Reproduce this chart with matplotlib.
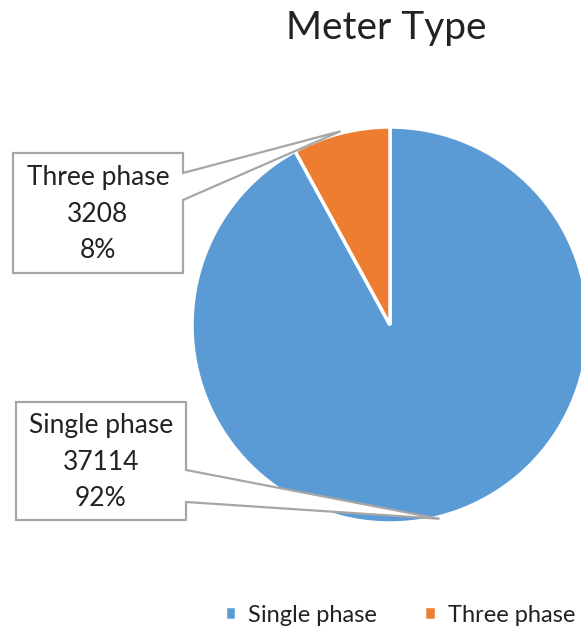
import numpy as np
import matplotlib
matplotlib.use("Agg")
from matplotlib import pyplot as plt
from matplotlib.patches import Polygon

# meter counts by type
meter_types = ["Single phase", "Three phase"]
meter_counts = [37114, 3208]
slice_colors = ["#5B9BD5", "#ED7D31"]

plt.rcParams['font.family'] = ['Lato', 'DejaVu Sans']
text_color = "#222222"

W, H = 581, 642
fig = plt.figure(figsize=(W / 100, H / 100), dpi=100)
ax = fig.add_axes([0, 0, 1, 1])

# pie laid out in pixel units (y measured from the bottom)
cx, cy, r = 390, H - 325, 198
wedges, _ = ax.pie(meter_counts, colors=slice_colors, startangle=90,
                   counterclock=False, center=(cx, cy), radius=r,
                   explode=[0, 0.012],
                   wedgeprops=dict(edgecolor="white", linewidth=2.5))
ax.set_xlim(0, W)
ax.set_ylim(0, H)
ax.set_aspect("auto")
ax.axis("off")

total = sum(meter_counts)

# callout boxes: (left, top, right, bottom) and pointer base on box edge (top y, bottom y)
boxes = [
    ((16, 402, 186, 520), (470, 502)),   # Single phase
    ((13, 153, 183, 273), (173, 200)),   # Three phase
]

for w, name, count, (box, base) in zip(wedges, meter_types, meter_counts, boxes):
    mid = np.deg2rad((w.theta1 + w.theta2) / 2)
    wx, wy = w.center
    tip = (wx + 1.01 * r * np.cos(mid), wy + 1.01 * r * np.sin(mid))
    x0, y0, x1, y1 = box
    pts = [(x0, H - y0), (x1, H - y0), (x1, H - base[0]), tip,
           (x1, H - base[1]), (x1, H - y1), (x0, H - y1)]
    ax.add_patch(Polygon(pts, closed=True, facecolor="white",
                         edgecolor="#A6A6A6", linewidth=1.6, zorder=5))
    label = f"{name}\n{count}\n{count / total * 100:.0f}%"
    ax.text((x0 + x1) / 2, H - (y0 + y1) / 2 - 1, label, ha="center", va="center",
            fontsize=19, color=text_color, linespacing=1.55, zorder=6)

ax.text(386, H - 28, "Meter Type", ha="center", va="center",
        fontsize=28, color=text_color)

fig.legend(wedges, meter_types, loc="center", bbox_to_anchor=(400 / W, 1 - 615 / H),
           ncol=2, frameon=False, fontsize=17, handlelength=0.5, handleheight=0.5,
           handletextpad=0.5, columnspacing=2.0, labelcolor=text_color)

fig.savefig("out.png", dpi=100)
